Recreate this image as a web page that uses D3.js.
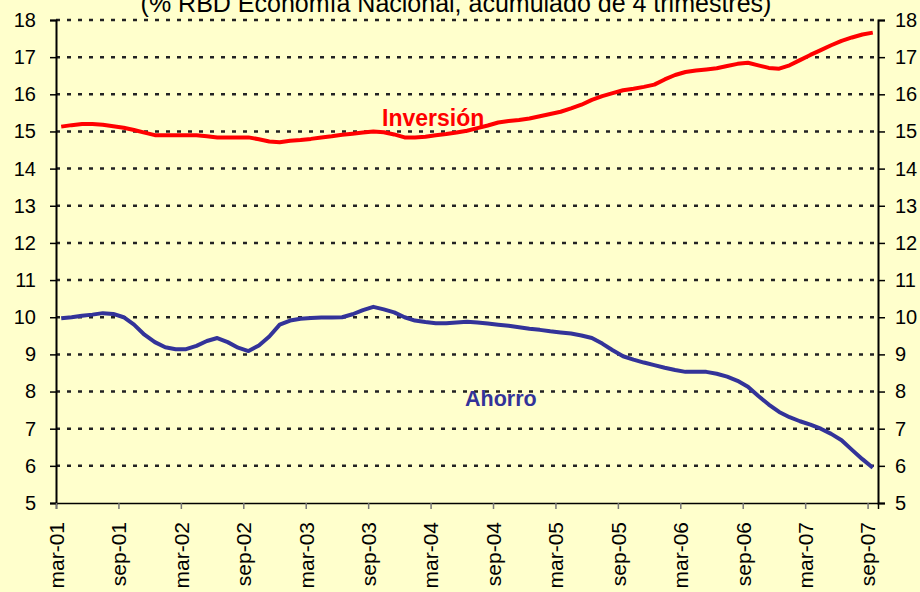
<!DOCTYPE html>
<html>
<head>
<meta charset="utf-8">
<script src="https://d3js.org/d3.v7.min.js"></script>
<style>
  body { margin: 0; background: #FFFFCC; }
  svg { display: block; }
</style>
</head>
<body>
<div id="grafico"></div>
<script>
// Datos mensuales, mar-01 a sep-07
var meses = ["ene", "feb", "mar", "abr", "may", "jun", "jul", "ago", "sep", "oct", "nov", "dic"];
var anios = ["01", "02", "03", "04", "05", "06", "07"];

var inversion = [
  15.13, 15.17, 15.20, 15.20, 15.18, 15.14, 15.10, 15.04, 14.97, 14.90,
  14.90, 14.90, 14.90, 14.90, 14.87, 14.84, 14.84, 14.84, 14.84, 14.79,
  14.73, 14.71, 14.75, 14.77, 14.80, 14.84, 14.87, 14.91, 14.94, 14.97,
  15.00, 14.98, 14.92, 14.84, 14.84, 14.86, 14.90, 14.93, 14.97, 15.02,
  15.09, 15.16, 15.24, 15.28, 15.31, 15.35, 15.41, 15.47, 15.53, 15.62,
  15.72, 15.85, 15.95, 16.03, 16.11, 16.15, 16.20, 16.26, 16.40, 16.52,
  16.60, 16.64, 16.67, 16.70, 16.76, 16.82, 16.85, 16.78, 16.71, 16.69,
  16.78, 16.92, 17.06, 17.19, 17.32, 17.44, 17.53, 17.61, 17.66
];

var ahorro = [
  9.97, 10.00, 10.04, 10.07, 10.11, 10.09, 10.00, 9.80, 9.53, 9.33,
  9.19, 9.14, 9.14, 9.23, 9.36, 9.44, 9.33, 9.18, 9.09, 9.24,
  9.48, 9.80, 9.91, 9.96, 9.98, 9.99, 9.99, 10.00, 10.08, 10.19,
  10.28, 10.21, 10.13, 10.00, 9.91, 9.87, 9.84, 9.84, 9.86, 9.88,
  9.86, 9.83, 9.80, 9.77, 9.73, 9.69, 9.66, 9.62, 9.59, 9.56,
  9.51, 9.44, 9.29, 9.11, 8.95, 8.86, 8.78, 8.71, 8.64, 8.58,
  8.53, 8.53, 8.53, 8.48, 8.40, 8.29, 8.13, 7.88, 7.65, 7.45,
  7.31, 7.20, 7.11, 7.00, 6.86, 6.69, 6.43, 6.18, 5.95
];

var ticksY = [5, 6, 7, 8, 9, 10, 11, 12, 13, 14, 15, 16, 17, 18];

// Construir las categorias (mes-año) desde mar-01
var categorias = [];
for (var a = 0; a < anios.length; a++) {
  for (var m = 0; m < 12; m++) {
    if (a == 0 && m < 2) continue;
    if (categorias.length < inversion.length) categorias.push(meses[m] + "-" + anios[a]);
  }
}

var width = 920;
var height = 592;
var fuente = "Arial, 'Liberation Sans', sans-serif";

var svg = d3.select("#grafico")
  .append("svg")
  .attr("width", width)
  .attr("height", height)
  .style("background", "#FFFFCC");

var x = d3.scaleLinear().domain([0, categorias.length]).range([56, 878]);
var y = d3.scaleLinear().domain([5, 18]).range([503, 20]);

// Titulo (cortado arriba como en el original)
svg.append("text")
  .attr("x", 456)
  .attr("y", 12)
  .attr("text-anchor", "middle")
  .style("font-family", fuente)
  .style("font-size", "25px")
  .text("(% RBD Economía Nacional, acumulado de 4 trimestres)");

// Lineas de la grilla punteadas
svg.selectAll(".grid")
  .data(ticksY.filter(function(d) { return d > 5; }))
  .enter()
  .append("line")
  .attr("class", "grid")
  .attr("x1", 56)
  .attr("x2", 878)
  .attr("y1", function(d) { return y(d); })
  .attr("y2", function(d) { return y(d); })
  .attr("stroke", "#222")
  .attr("stroke-width", 2.5)
  .attr("stroke-dasharray", "4,7");

// Eje izquierdo
var ejeIzq = svg.append("g")
  .attr("transform", "translate(56,0)")
  .call(d3.axisLeft(y).tickValues(ticksY).tickSize(6).tickPadding(14));

// Eje derecho
var ejeDer = svg.append("g")
  .attr("transform", "translate(878,0)")
  .call(d3.axisRight(y).tickValues(ticksY).tickSize(7).tickPadding(10));

[ejeIzq, ejeDer].forEach(function(eje) {
  eje.select(".domain").attr("stroke", "#000").attr("stroke-width", 2);
  eje.selectAll(".tick line").attr("stroke", "#000").attr("stroke-width", 1.5);
  eje.selectAll("text")
    .style("font-family", fuente)
    .style("font-size", "20px")
    .attr("fill", "#000");
});

// Eje inferior: marcas cada 6 meses al borde de la categoria
var marcas = [];
for (var i = 0; i < categorias.length; i += 6) marcas.push(i);

var ejeX = svg.append("g")
  .attr("transform", "translate(0,503)")
  .call(d3.axisBottom(x)
    .tickValues(marcas)
    .tickSize(6)
    .tickFormat(function(i) { return categorias[i]; }));

ejeX.select(".domain").attr("stroke", "#000").attr("stroke-width", 1.5);
ejeX.selectAll(".tick line").attr("stroke", "#777").attr("stroke-width", 1.5);
ejeX.selectAll("text")
  .style("font-family", fuente)
  .style("font-size", "21px")
  .attr("fill", "#000")
  .attr("text-anchor", "end")
  .attr("transform", "rotate(-90)")
  .attr("x", -19)
  .attr("y", 0)
  .attr("dy", "0.35em");

// Series
var linea = function(datos) {
  return d3.line()
    .x(function(d, i) { return x(i + 0.5); })
    .y(function(d) { return y(d); })(datos);
};

svg.append("path")
  .attr("d", linea(inversion))
  .attr("fill", "none")
  .attr("stroke", "#FF0000")
  .attr("stroke-width", 4)
  .attr("stroke-linejoin", "round");

svg.append("path")
  .attr("d", linea(ahorro))
  .attr("fill", "none")
  .attr("stroke", "#333399")
  .attr("stroke-width", 4)
  .attr("stroke-linejoin", "round");

// Etiquetas de las series
svg.append("text")
  .attr("x", 382)
  .attr("y", 126)
  .style("font-family", fuente)
  .style("font-size", "23px")
  .style("font-weight", "bold")
  .attr("fill", "#FF0000")
  .text("Inversión");

svg.append("text")
  .attr("x", 465)
  .attr("y", 406)
  .style("font-family", fuente)
  .style("font-size", "21.5px")
  .style("font-weight", "bold")
  .attr("fill", "#333399")
  .text("Ahorro");
</script>
</body>
</html>
